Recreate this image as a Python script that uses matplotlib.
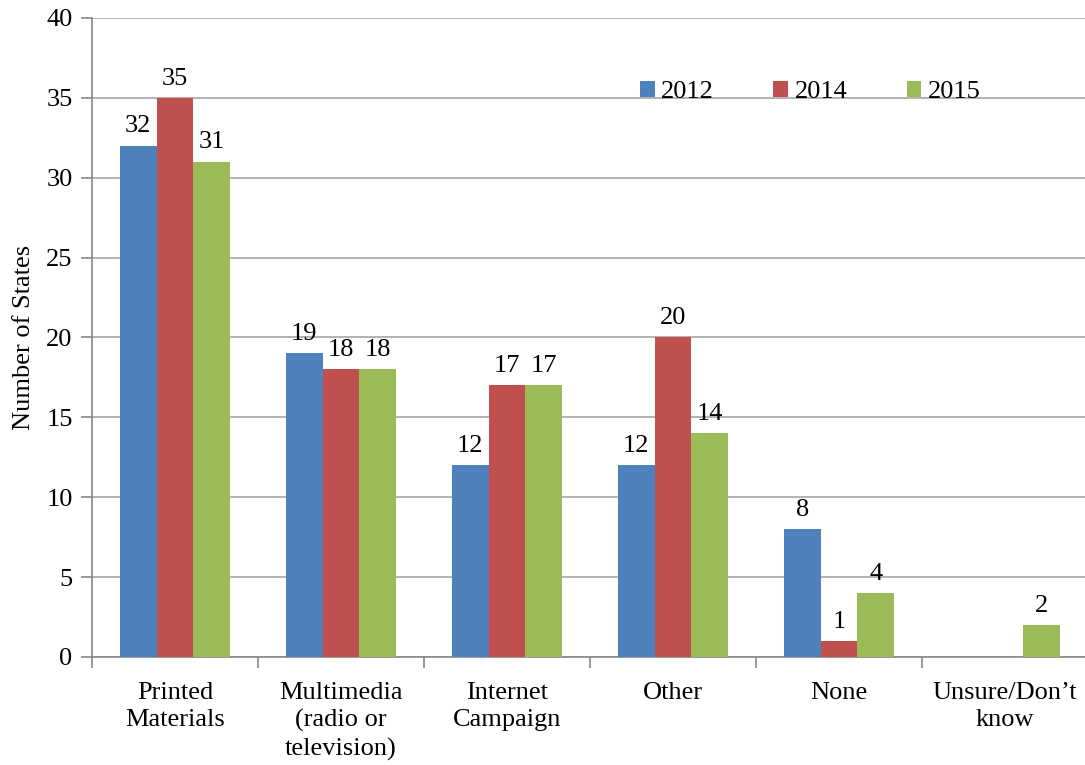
import numpy as np
import matplotlib
matplotlib.use('Agg')
import matplotlib.pyplot as plt

categories = ['Printed\nMaterials', 'Multimedia\n(radio or\ntelevision)', 'Internet\nCampaign',
              'Other', 'None', 'Unsure/Don\u2019t\nknow']
years = ['2012', '2014', '2015']
vals_2012 = [32, 19, 12, 12, 8, 0]
vals_2014 = [35, 18, 17, 20, 1, 0]
vals_2015 = [31, 18, 17, 14, 4, 2]
colors = ['#4F81BD', '#C0504D', '#9BBB59']

plt.rcParams['font.family'] = ['Liberation Serif', 'DejaVu Serif']

fig = plt.figure(figsize=(10.85, 7.65), dpi=100)
ax = fig.add_axes([0.0848, 0.1412, 0.918, 0.8353])

x = np.arange(len(categories))
width = 0.222
series = [vals_2012, vals_2014, vals_2015]

for i, (vals, col, yr) in enumerate(zip(series, colors, years)):
    pos = x + (i - 1) * width
    bars = ax.bar(pos, vals, width=width, color=col, label=yr, zorder=3, linewidth=0)
    for p, v in zip(pos, vals):
        if v > 0:
            ax.annotate(str(v), (p, v), xytext=(0, 6), textcoords='offset points',
                        ha='center', va='bottom', fontsize=19)

ax.set_xlim(-0.5, len(categories) - 0.5)
ax.set_ylim(0, 40)
ax.set_yticks(np.arange(0, 41, 5))
ax.yaxis.grid(True, color='#A6A6A6', linewidth=1.2, zorder=0)
ax.set_axisbelow(True)

# category boundaries as ticks, labels centred between them
ax.set_xticks(np.arange(len(categories) + 1) - 0.5)
ax.set_xticklabels([])
ax.set_xticks(x, minor=True)
ax.set_xticklabels(categories, minor=True, fontsize=19, linespacing=1.3)
ax.tick_params(axis='x', which='minor', length=0, pad=18)
ax.tick_params(axis='x', which='major', length=8, color='#888888', width=1.2)
ax.tick_params(axis='y', length=8, color='#888888', width=1.2, labelsize=19, pad=6)

for s in ['top', 'right']:
    ax.spines[s].set_visible(False)
for s in ['left', 'bottom']:
    ax.spines[s].set_color('#888888')
    ax.spines[s].set_linewidth(1.2)

ax.set_ylabel('Number of States', fontsize=19, labelpad=8)

ax.legend(loc='center left', bbox_to_anchor=(0.537, 0.884), ncol=3, frameon=False,
          fontsize=19, handlelength=0.55, handleheight=0.55, handletextpad=0.25,
          columnspacing=2.25, borderpad=0)

fig.savefig('out.png', dpi=100)
